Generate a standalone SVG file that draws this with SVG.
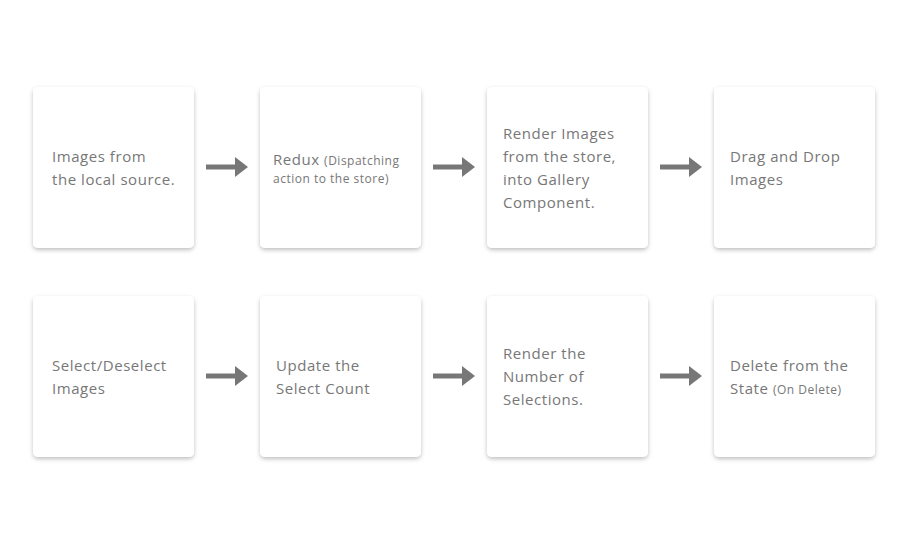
<svg xmlns="http://www.w3.org/2000/svg" width="908" height="544" viewBox="0 0 908 544">
<defs>
<filter id="sh" x="-20%" y="-20%" width="140%" height="140%">
<feDropShadow dx="0" dy="2" stdDeviation="2" flood-color="#000" flood-opacity="0.25"/>
</filter>
<marker id="ah" markerWidth="4" markerHeight="4" refX="0" refY="2" orient="auto" markerUnits="strokeWidth">
<path d="M0,0 L2.6,2 L0,4 Z" fill="#777"/>
</marker>
</defs>
<style>
.box{fill:#fff;filter:url(#sh)}
.t{font-family:"Open Sans","Noto Sans",sans-serif;font-size:15px;fill:#777;letter-spacing:0.55px}
.s{font-size:12px;letter-spacing:0.5px}
.c{stroke:#777;stroke-width:5;fill:none;marker-end:url(#ah)}
</style>
<rect width="908" height="544" fill="#fff"/>
<g id="n1"><rect class="box" x="33" y="87" width="161" height="161" rx="5"/><text class="t" x="52" y="162">Images from</text><text class="t" x="52" y="185">the local source.</text></g>
<g id="n2"><rect class="box" x="260" y="87" width="161" height="161" rx="5"/><text class="t" x="273" y="165">Redux <tspan class="s">(Dispatching</tspan></text><text class="t s" x="273" y="183">action to the store)</text></g>
<g id="n3"><rect class="box" x="487" y="87" width="161" height="161" rx="5"/><text class="t" x="503" y="139">Render Images</text><text class="t" x="503" y="162">from the store,</text><text class="t" x="503" y="185">into Gallery</text><text class="t" x="503" y="208">Component.</text></g>
<g id="n4"><rect class="box" x="714" y="87" width="161" height="161" rx="5"/><text class="t" x="730" y="162">Drag and Drop</text><text class="t" x="730" y="185">Images</text></g>
<g id="n5"><rect class="box" x="33" y="296" width="161" height="161" rx="5"/><text class="t" x="52" y="371">Select/Deselect</text><text class="t" x="52" y="394">Images</text></g>
<g id="n6"><rect class="box" x="260" y="296" width="161" height="161" rx="5"/><text class="t" x="276" y="371">Update the</text><text class="t" x="276" y="394">Select Count</text></g>
<g id="n7"><rect class="box" x="487" y="296" width="161" height="161" rx="5"/><text class="t" x="503" y="359">Render the</text><text class="t" x="503" y="382">Number of</text><text class="t" x="503" y="405">Selections.</text></g>
<g id="n8"><rect class="box" x="714" y="296" width="161" height="161" rx="5"/><text class="t" x="730" y="371">Delete from the</text><text class="t" x="730" y="394">State <tspan class="s">(On Delete)</tspan></text></g>
<g id="connectors">
<line class="c" x1="206" y1="167" x2="235" y2="167"/>
<line class="c" x1="433" y1="167" x2="462" y2="167"/>
<line class="c" x1="660" y1="167" x2="689" y2="167"/>
<line class="c" x1="206" y1="376" x2="235" y2="376"/>
<line class="c" x1="433" y1="376" x2="462" y2="376"/>
<line class="c" x1="660" y1="376" x2="689" y2="376"/>
</g>
</svg>
